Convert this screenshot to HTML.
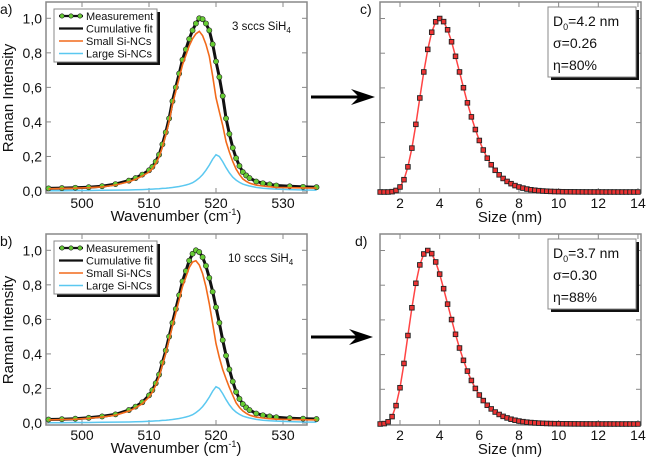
<!DOCTYPE html>
<html><head><meta charset="utf-8"><style>
body{margin:0;background:#fff;}
svg{display:block;font-family:"Liberation Sans",sans-serif;}
</style></head><body>
<svg id="fig" width="650" height="464" viewBox="0 0 650 464"></svg>
<script>
const wn=[495,497,499,501,503,505,507,508,509,510,510.5,511,511.5,512,512.5,513,513.5,514,514.5,515,515.5,516,516.5,517,517.5,518,518.5,519,519.5,520,520.5,521,521.5,522,522.5,523,523.5,524,524.5,525,526,527,528,529,531,533,535];
const cumA=[.015,.017,.019,.022,.028,.04,.06,.075,.095,.12,.14,.17,.21,.27,.34,.42,.52,.6,.68,.76,.82,.88,.93,.97,1.0,.995,.97,.93,.85,.75,.66,.55,.42,.33,.25,.19,.145,.11,.09,.075,.055,.045,.038,.032,.027,.024,.022];
const largeA=[.002,.002,.003,.003,.004,.005,.006,.007,.008,.01,.011,.012,.013,.015,.016,.018,.02,.023,.026,.03,.035,.04,.048,.06,.075,.095,.12,.15,.185,.21,.2,.17,.135,.105,.08,.063,.05,.04,.034,.029,.021,.016,.013,.011,.008,.006,.005];
const smallA=[.013,.015,.016,.019,.024,.035,.054,.068,.087,.11,.129,.158,.197,.255,.324,.402,.5,.577,.654,.73,.785,.84,.882,.91,.925,.9,.85,.78,.665,.54,.46,.38,.285,.225,.17,.127,.095,.07,.056,.046,.034,.029,.025,.021,.019,.018,.017];
const cumB=[.02,.022,.025,.03,.038,.05,.075,.095,.12,.16,.19,.23,.28,.35,.42,.5,.58,.66,.74,.82,.88,.94,.98,1.0,.99,.96,.91,.84,.76,.67,.58,.48,.39,.31,.24,.18,.14,.11,.09,.075,.055,.045,.038,.033,.028,.025,.023];
const largeB=[.002,.002,.003,.003,.004,.005,.006,.007,.008,.01,.011,.012,.013,.015,.016,.018,.02,.023,.026,.03,.035,.04,.048,.06,.075,.095,.12,.15,.185,.21,.2,.17,.135,.105,.08,.063,.05,.04,.034,.029,.021,.016,.013,.011,.008,.006,.005];
const smallB=[.018,.02,.022,.027,.034,.045,.069,.088,.112,.15,.179,.218,.267,.335,.404,.482,.56,.637,.714,.79,.845,.9,.932,.94,.915,.865,.79,.69,.575,.46,.38,.31,.255,.205,.16,.117,.09,.07,.056,.046,.034,.029,.025,.022,.02,.019,.018];
const sizes=[1.0,1.2,1.4,1.6,1.8,2.0,2.2,2.4,2.6,2.8,3.0,3.2,3.4,3.6,3.8,4.0,4.2,4.4,4.6,4.8,5.0,5.2,5.4,5.6,5.8,6.0,6.2,6.4,6.6,6.8,7.0,7.2,7.4,7.6,7.8,8.0,8.2,8.4,8.6,8.8,9.0,9.2,9.4,9.6,9.8,10.0,10.2,10.4,10.6,10.8,11.0,11.2,11.4,11.6,11.8,12.0,12.2,12.4,12.6,12.8,13.0,13.2,13.4,13.6,13.8,14.0];
const distC=[0,0,0,.002,.009,.029,.071,.145,.253,.39,.542,.692,.822,.921,.981,1,.982,.935,.866,.782,.692,.601,.514,.433,.36,.297,.242,.195,.157,.125,.099,.078,.061,.048,.037,.029,.0225,.0171,.013,.0101,.0077,.0059,.0045,.0035,.0026,.002,.0015,.0012,.001,.0008,.0006,.0005,.0004,.0003,.0003,.0002,.0002,.0001,.0001,.0001,0,0,0,0,0,0];
const distD=[0,.0024,.0126,.0426,.106,.209,.349,.51,.67,.811,.917,.98,1,.982,.934,.864,.78,.691,.602,.517,.438,.367,.305,.251,.205,.167,.135,.108,.087,.069,.055,.044,.035,.0275,.0217,.0171,.0135,.0106,.0083,.0065,.0051,.004,.0031,.0024,.0019,.0015,.0012,.001,.0008,.0006,.0005,.0004,.0003,.0003,.0002,.0002,.0001,.0001,.0001,0,0,0,0,0,0,0];
const ramanTicks=[500,510,520,530];
const ramanYTicks=[0,0.2,0.4,0.6,0.8,1.0];
const ramanYLabels=["0,0","0,2","0,4","0,6","0,8","1,0"];
const sizeTicks=[2,4,6,8,10,12,14];

const NS="http://www.w3.org/2000/svg";
const svg=document.getElementById('fig');
function el(tag,attrs,parent){const e=document.createElementNS(NS,tag);for(const k in attrs)e.setAttribute(k,attrs[k]);(parent||svg).appendChild(e);return e;}
function txt(s,x,y,size,anchor,parent){const t=el('text',{x:x,y:y,'font-size':size,'text-anchor':anchor||'middle',fill:'#111'},parent);t.textContent=s;return t;}

function ramanPanel(oy,cum,small,large,label,gas,gasName){
  const g=el('g',{});
  
  
  const L=46,R=307,T=oy+2,B=oy+193;
  const y0=oy+191,y1=oy+18.3;
  const xs=v=>82+(v-500)*6.7;
  const ys=v=>y0+(y1-y0)*v;
  el('rect',{x:L,y:T,width:R-L,height:B-T,fill:'none',stroke:'#888','stroke-width':1.5},g);
  ramanTicks.forEach(t=>{const x=xs(t);el('line',{x1:x,x2:x,y1:B,y2:B-5,stroke:'#888'},g);el('line',{x1:x,x2:x,y1:T,y2:T+5,stroke:'#888'},g);
    const tl=txt(String(t),x,B+15,14,'middle',g);});
  ramanYTicks.forEach((t,i)=>{const y=ys(t);el('line',{x1:L,x2:L+5,y1:y,y2:y,stroke:'#888'},g);el('line',{x1:R,x2:R-5,y1:y,y2:y,stroke:'#888'},g);
    const tl=txt(ramanYLabels[i],42,y+5,14,'end',g);});
  const pts=a=>a.map((v,i)=>xs(wn[i]).toFixed(1)+','+ys(v).toFixed(1)).join(' ');
  const lg=el('polyline',{points:pts(large),fill:'none',stroke:'#5bc8f0','stroke-width':1.5},g);
  
  const cm=el('polyline',{points:pts(cum),fill:'none',stroke:'#111','stroke-width':3},g);
  
  cum.forEach((v,i)=>{const c=el('circle',{cx:xs(wn[i]),cy:ys(v),r:2.6,fill:'#6c3',stroke:'#222','stroke-width':0.6},g);
    });
  const sm=el('polyline',{points:pts(small),fill:'none',stroke:'#f26a1b','stroke-width':1.6},g);
  
  const lgd=el('g',{},g);
  const bx=54,by=oy+9,bw=103,bh=53;
  el('rect',{x:bx+3,y:by+3,width:bw,height:bh,fill:'#111'},lgd);
  el('rect',{x:bx,y:by,width:bw,height:bh,fill:'#fff',stroke:'#888'},lgd);
  const items=[['Measurement','#111',true],['Cumulative fit','#111',false],['Small Si-NCs','#f26a1b',false],['Large Si-NCs','#5bc8f0',false]];
  items.forEach((it,i)=>{const yy=by+7+i*12.5;
    const e=el('g',{},lgd);
    el('line',{x1:bx+5,x2:bx+29,y1:yy,y2:yy,stroke:it[1],'stroke-width':i<2?2.2:1.5},e);
    if(it[2])[bx+8,bx+17,bx+26].forEach(cx=>el('circle',{cx:cx,cy:yy,r:2.2,fill:'#6c3',stroke:'#222','stroke-width':0.6},e));
    txt(it[0],bx+32,yy+4,11,'start',e);});
  const gt=el('text',{x:gas,y:oy+30,'font-size':11.5,fill:'#111'},g);
  
  gt.innerHTML=gasName+' SiH<tspan font-size="8" dy="3">4</tspan>';
  const xt=el('text',{x:176,y:B+28,'font-size':15,'text-anchor':'middle',fill:'#111'},g);
  
  xt.innerHTML='Wavenumber (cm<tspan font-size="9" dy="-6">-1</tspan><tspan dy="6">)</tspan>';
  const yt=txt('Raman Intensity',0,0,15,'middle',g);yt.setAttribute('transform','translate(13,'+(oy+98)+') rotate(-90)');
  
  const pl=txt(label+')',0,oy+14,14,'start',g);
}
function sizePanel(oy,dist,label,info,lx){
  const g=el('g',{});
  
  
  const L=380,R=641,T=oy+2,B=oy+193;
  const y0=oy+192,y1=oy+18.5;
  const xs=v=>400+(v-2)*19.83;
  const ys=v=>y0+(y1-y0)*v;
  el('rect',{x:L,y:T,width:R-L,height:B-T,fill:'none',stroke:'#888','stroke-width':1.5},g);
  sizeTicks.forEach(t=>{const x=xs(t);el('line',{x1:x,x2:x,y1:B,y2:B-5,stroke:'#888'},g);el('line',{x1:x,x2:x,y1:T,y2:T+5,stroke:'#888'},g);
    const tl=txt(String(t),x,B+15,14,'middle',g);});
  [0,.2,.4,.6,.8,1].forEach(t=>{const y=ys(t);el('line',{x1:L,x2:L+5,y1:y,y2:y,stroke:'#888'},g);el('line',{x1:R,x2:R-5,y1:y,y2:y,stroke:'#888'},g);});
  const pts=dist.map((v,i)=>xs(sizes[i]).toFixed(1)+','+ys(v).toFixed(1)).join(' ');
  const ln=el('polyline',{points:pts,fill:'none',stroke:'#f44','stroke-width':1.5},g);
  
  dist.forEach((v,i)=>{const r=el('rect',{x:xs(sizes[i])-2.3,y:ys(v)-2.3,width:4.6,height:4.6,fill:'#e33',stroke:'#222','stroke-width':0.9},g);
    });
  const ib=el('g',{},g);
  el('rect',{x:551,y:oy+10,width:88,height:70,fill:'#111'},ib);
  el('rect',{x:548,y:oy+7,width:88,height:70,fill:'#fff',stroke:'#888'},ib);
  const t1=el('text',{x:553,y:oy+26,'font-size':14,fill:'#111'},ib);t1.innerHTML='D<tspan font-size="9" dy="4">0</tspan><tspan dy="-4">='+info[0]+'</tspan>';
  txt('σ='+info[1],553,oy+48,14,'start',ib);
  txt('η='+info[2],553,oy+70,14,'start',ib);
  const xt=txt('Size (nm)',510,B+29,15,'middle',g);
  const pl=txt(label+')',lx,oy+14,14,'start',g);
}
function arrow(x1,x2,y){const g=el('g',{});
  el('line',{x1:x1,x2:x2-10,y1:y,y2:y,stroke:'#000','stroke-width':3},g);
  el('path',{d:`M${x2},${y} L${x2-24},${y-8} L${x2-16},${y} L${x2-24},${y+8} Z`,fill:'#000'},g);}

ramanPanel(0,cumA,smallA,largeA,'a',232,'3 sccs');
ramanPanel(232,cumB,smallB,largeB,'b',228,'10 sccs');
sizePanel(0,distC,'c',['4.2 nm','0.26','80%'],360);
sizePanel(232,distD,'d',['3.7 nm','0.30','88%'],355);
arrow(311,375,97);
arrow(311,373,337);
</script>
</body></html>
